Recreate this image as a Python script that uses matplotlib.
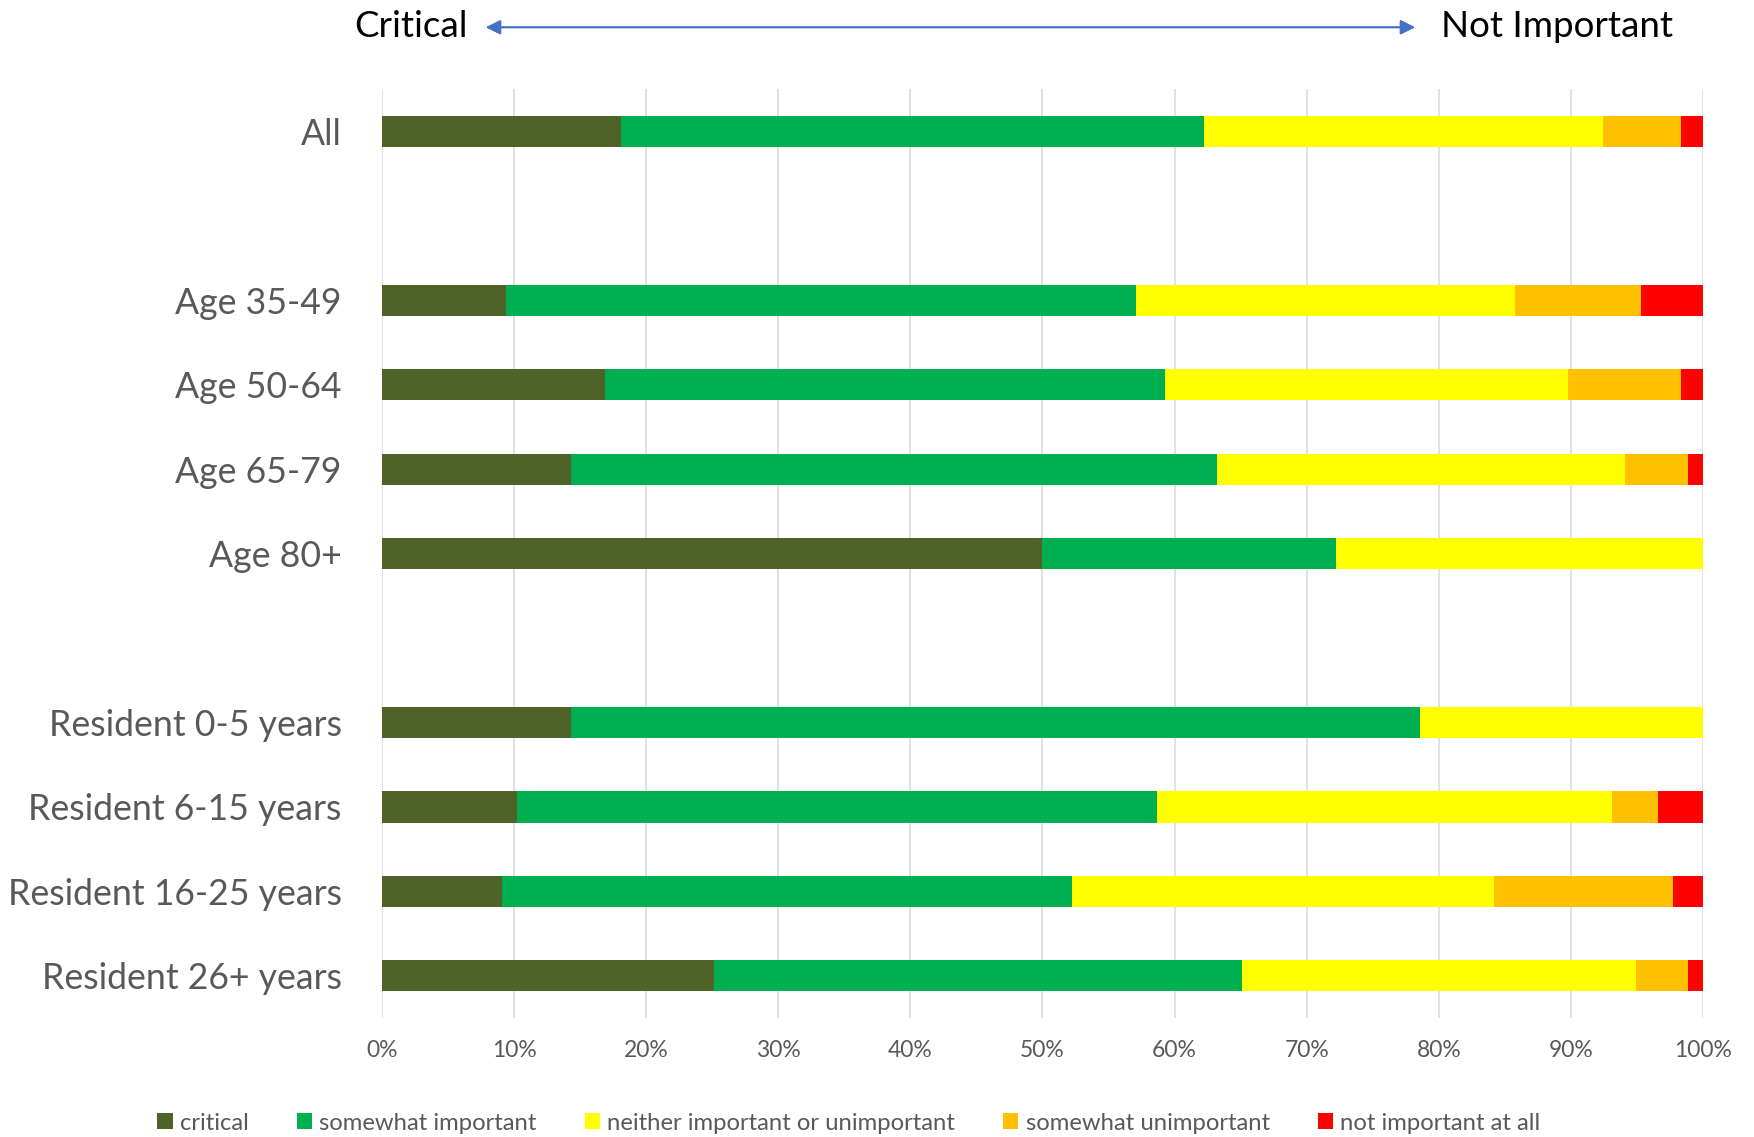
import matplotlib
matplotlib.use("Agg")
import matplotlib.pyplot as plt
from matplotlib.patches import Patch
import numpy as np

# rows top to bottom, "" = empty spacer row
categories = ["All", "", "Age 35-49", "Age 50-64", "Age 65-79", "Age 80+", "",
              "Resident 0-5 years", "Resident 6-15 years",
              "Resident 16-25 years", "Resident 26+ years"]

critical = [18.1, 0, 9.4, 16.9, 14.3, 50.0, 0, 14.3, 10.2, 9.1, 25.1]
somewhat_important = [44.1, 0, 47.7, 42.4, 48.9, 22.2, 0, 64.3, 48.5, 43.1, 40.0]
neither = [30.2, 0, 28.7, 30.5, 30.9, 27.8, 0, 21.4, 34.4, 32.0, 29.8]
somewhat_unimportant = [5.9, 0, 9.5, 8.5, 4.8, 0, 0, 0, 3.5, 13.5, 4.0]
not_important = [1.7, 0, 4.7, 1.7, 1.1, 0, 0, 0, 3.4, 2.3, 1.1]

series_names = ["critical", "somewhat important", "neither important or unimportant",
                "somewhat unimportant", "not important at all"]
series_colors = ["#4F6228", "#00B050", "#FFFF00", "#FFC000", "#FF0000"]

xticks = np.arange(0, 101, 10)

plt.rcParams["font.family"] = ["Lato", "DejaVu Sans"]
text_grey = "#595959"

fig = plt.figure(figsize=(17.54, 11.37), dpi=100)
ax = fig.add_axes([0.2178, 0.1047, 0.7531, 0.8168])

series = [critical, somewhat_important, neither, somewhat_unimportant, not_important]
y = np.arange(len(categories))
left = np.zeros(len(categories))
for vals, color in zip(series, series_colors):
    vals = np.array(vals, dtype=float)
    ax.barh(y, vals, left=left, height=0.37, color=color, zorder=3)
    left += vals

ax.set_xlim(0, 100)
ax.set_ylim(len(categories) - 0.5, -0.5)
ax.set_xticks(xticks)
ax.set_xticklabels([f"{t}%" for t in xticks])
ax.set_yticks(y)
ax.set_yticklabels(categories)
ax.grid(axis="x", color="#D9D9D9", linewidth=1.1, zorder=0)
for s in ax.spines.values():
    s.set_visible(False)
ax.tick_params(axis="x", length=0, pad=16, labelsize=16.5, labelcolor=text_grey)
ax.tick_params(axis="y", length=0, pad=29, labelsize=25.7, labelcolor=text_grey)

# scale direction header
fig.text(0.2343, 0.977, "Critical", fontsize=26.5, ha="center", va="center", color="black")
fig.text(0.8877, 0.977, "Not Important", fontsize=26.5, ha="center", va="center", color="black")
fig.add_artist(plt.annotate("", xy=(0.2771, 0.976), xytext=(0.8067, 0.976),
                            xycoords="figure fraction", textcoords="figure fraction",
                            arrowprops=dict(arrowstyle="<|-|>", color="#4472C4",
                                            lw=1.3, mutation_scale=22,
                                            shrinkA=0, shrinkB=0)))

handles = [Patch(facecolor=c, edgecolor="none") for c in series_colors]
leg = fig.legend(handles, series_names, loc="center", bbox_to_anchor=(0.484, 0.0123),
                 ncol=5, frameon=False, fontsize=17.2, handlelength=0.65,
                 handleheight=0.65, handletextpad=0.3, columnspacing=2.0)
for t in leg.get_texts():
    t.set_color(text_grey)

fig.savefig("out.png", dpi=100)
